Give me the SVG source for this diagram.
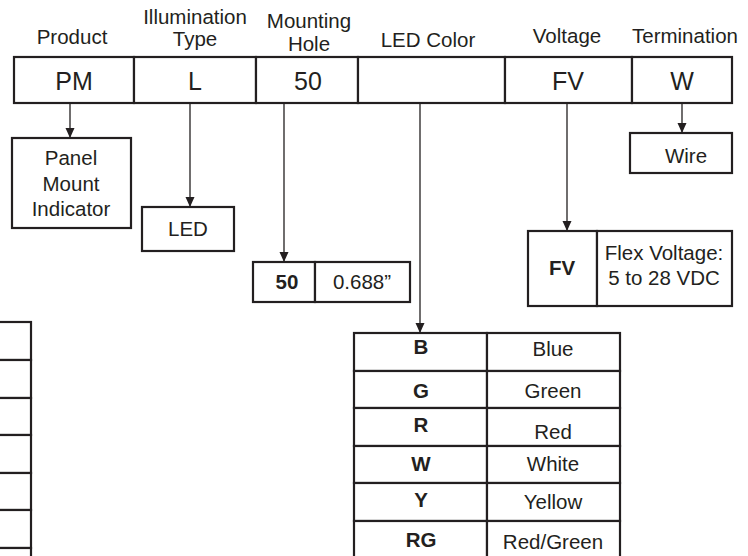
<svg xmlns="http://www.w3.org/2000/svg" width="748" height="556" viewBox="0 0 748 556">
<style>
text{font-family:"Liberation Sans",Arial,sans-serif;fill:#231f20;text-anchor:middle}
.lb{font-size:20.5px}
.big{font-size:25px}
.b{font-weight:bold}
.box{fill:#fff;stroke:#231f20;stroke-width:2.2}
.ln{fill:none;stroke:#231f20;stroke-width:1.3}
</style>
<defs>
<marker id="ah" markerUnits="userSpaceOnUse" markerWidth="10" markerHeight="10" refX="10" refY="5" orient="auto" viewBox="0 0 10 10">
<path d="M0,0.5 L10,5 L0,9.5 Z" fill="#231f20"/>
</marker>
</defs>
<rect width="748" height="556" fill="#fff"/>

<g id="connectors">
<line class="ln" x1="70" y1="103" x2="70" y2="138" marker-end="url(#ah)"/>
<line class="ln" x1="190" y1="103" x2="190" y2="207" marker-end="url(#ah)"/>
<line class="ln" x1="284" y1="103" x2="284" y2="262" marker-end="url(#ah)"/>
<line class="ln" x1="420" y1="103" x2="420" y2="333" marker-end="url(#ah)"/>
<line class="ln" x1="567" y1="103" x2="567" y2="231" marker-end="url(#ah)"/>
<line class="ln" x1="682" y1="103" x2="682" y2="133" marker-end="url(#ah)"/>
</g>

<g id="product">
<text class="lb" x="72" y="44">Product</text>
<rect class="box" x="14" y="57" width="120" height="46"/>
<text class="big" x="74" y="90">PM</text>
</g>
<g id="illumination">
<text class="lb" x="195" y="24">Illumination</text>
<text class="lb" x="195" y="46">Type</text>
<rect class="box" x="134" y="57" width="122" height="46"/>
<text class="big" x="195" y="90">L</text>
</g>
<g id="mounting">
<text class="lb" x="309" y="28">Mounting</text>
<text class="lb" x="309" y="51">Hole</text>
<rect class="box" x="256" y="57" width="102" height="46"/>
<text class="big" x="308" y="90">50</text>
</g>
<g id="ledcolor">
<text class="lb" x="428" y="47">LED Color</text>
<rect class="box" x="358" y="57" width="147" height="46"/>
</g>
<g id="voltage">
<text class="lb" x="567" y="43">Voltage</text>
<rect class="box" x="505" y="57" width="127" height="46"/>
<text class="big" x="568" y="90">FV</text>
</g>
<g id="termination">
<text class="lb" x="685" y="43">Termination</text>
<rect class="box" x="632" y="57" width="100" height="46"/>
<text class="big" x="682" y="90">W</text>
</g>

<g id="panel-mount">
<rect class="box" x="12" y="138" width="119" height="90"/>
<text class="lb" x="71" y="165">Panel</text>
<text class="lb" x="71" y="191">Mount</text>
<text class="lb" x="71" y="216">Indicator</text>
</g>
<g id="led">
<rect class="box" x="142" y="207" width="92" height="44"/>
<text class="lb" x="188" y="236">LED</text>
</g>
<g id="hole-50">
<rect class="box" x="253" y="262" width="62" height="40"/>
<rect class="box" x="315" y="262" width="95" height="40"/>
<text class="lb b" x="287" y="289">50</text>
<text class="lb" x="362" y="289">0.688”</text>
</g>
<g id="wire">
<rect class="box" x="630" y="133" width="102" height="40"/>
<text class="lb" x="686" y="163">Wire</text>
</g>
<g id="flex-voltage">
<rect class="box" x="528" y="231" width="69" height="75"/>
<rect class="box" x="597" y="231" width="135" height="75"/>
<text class="lb b" x="562" y="275">FV</text>
<text class="lb" x="664" y="260">Flex Voltage:</text>
<text class="lb" x="664" y="285">5 to 28 VDC</text>
</g>

<g id="color-table">
<rect class="box" x="354" y="333" width="133" height="38"/>
<rect class="box" x="487" y="333" width="133" height="38"/>
<rect class="box" x="354" y="371" width="133" height="37"/>
<rect class="box" x="487" y="371" width="133" height="37"/>
<rect class="box" x="354" y="408" width="133" height="38"/>
<rect class="box" x="487" y="408" width="133" height="38"/>
<rect class="box" x="354" y="446" width="133" height="37"/>
<rect class="box" x="487" y="446" width="133" height="37"/>
<rect class="box" x="354" y="483" width="133" height="38"/>
<rect class="box" x="487" y="483" width="133" height="38"/>
<rect class="box" x="354" y="521" width="133" height="40"/>
<rect class="box" x="487" y="521" width="133" height="40"/>
<text class="lb b" x="421" y="354">B</text>
<text class="lb" x="553" y="356">Blue</text>
<text class="lb b" x="421" y="398">G</text>
<text class="lb" x="553" y="398">Green</text>
<text class="lb b" x="421" y="432">R</text>
<text class="lb" x="553" y="439">Red</text>
<text class="lb b" x="421" y="471">W</text>
<text class="lb" x="553" y="471">White</text>
<text class="lb b" x="421" y="507">Y</text>
<text class="lb" x="553" y="509">Yellow</text>
<text class="lb b" x="421" y="547">RG</text>
<text class="lb" x="553" y="549">Red/Green</text>
</g>

<g id="left-table">
<rect class="box" x="-60" y="322" width="91" height="38"/>
<rect class="box" x="-60" y="360" width="91" height="38"/>
<rect class="box" x="-60" y="398" width="91" height="37"/>
<rect class="box" x="-60" y="435" width="91" height="38"/>
<rect class="box" x="-60" y="473" width="91" height="37"/>
<rect class="box" x="-60" y="510" width="91" height="38"/>
<rect class="box" x="-60" y="548" width="91" height="20"/>
</g>
</svg>
